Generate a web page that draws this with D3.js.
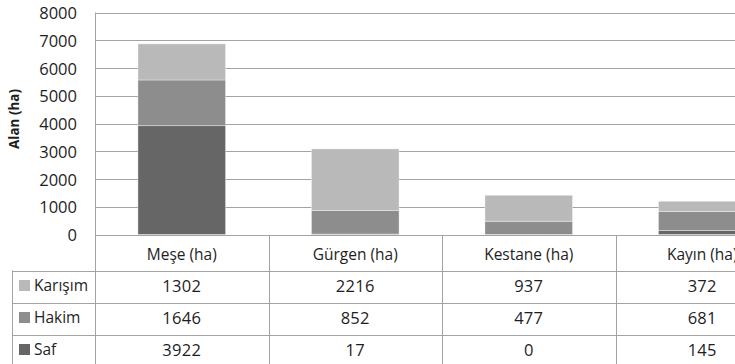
<!DOCTYPE html>
<html>
<head>
<meta charset="utf-8">
<script src="https://cdn.jsdelivr.net/npm/d3@7/dist/d3.min.js"></script>
<style>
  html, body { margin: 0; padding: 0; background: #fff; }
  svg { display: block; }
  text { font-family: "Open Sans", "DejaVu Sans", sans-serif; fill: #1e1e1e; }
</style>
</head>
<body>
<svg id="chart" width="735" height="364"></svg>
<script>
// Forest area by species and stand type
const categories = ["Meşe (ha)", "Gürgen (ha)", "Kestane (ha)", "Kayın (ha)"];
const seriesNames = ["Karışım", "Hakim", "Saf"];
const karisim = [1302, 2216, 937, 372];
const hakim = [1646, 852, 477, 681];
const saf = [3922, 17, 0, 145];
const yTicks = [0, 1000, 2000, 3000, 4000, 5000, 6000, 7000, 8000];
const colors = { "Karışım": "#b9b9b9", "Hakim": "#8d8d8d", "Saf": "#666666" };

const svg = d3.select("#chart");
const W = 735, H = 364;

const plotLeft = 95, plotTop = 12.5, plotBottom = 234.5;
const colStep = 173.5;
const tableLeft = 12;
const rowH = 32;

const x = d3.scaleBand()
  .domain(categories)
  .range([plotLeft, plotLeft + colStep * categories.length])
  .paddingInner(0).paddingOuter(0);

const y = d3.scaleLinear().domain([0, 8000]).range([plotBottom, plotTop]);

// Stack order bottom-up: Saf, Hakim, Karışım
const rows = categories.map((c, i) => ({ cat: c, "Saf": saf[i], "Hakim": hakim[i], "Karışım": karisim[i] }));
const stack = d3.stack().keys(["Saf", "Hakim", "Karışım"]);
const stacked = stack(rows);

const gridColor = "#a3a3a3";

// horizontal gridlines
svg.append("g").selectAll("line").data(yTicks).join("line")
  .attr("x1", plotLeft).attr("x2", W)
  .attr("y1", d => Math.round(y(d)) + 0.5).attr("y2", d => Math.round(y(d)) + 0.5)
  .attr("stroke", gridColor).attr("stroke-width", 1);

// y tick labels
svg.append("g").selectAll("text").data(yTicks).join("text")
  .attr("x", 77).attr("y", d => y(d) + 6.5)
  .attr("text-anchor", "end")
  .attr("font-size", 16.5)
  .text(d => d);

// axis title
svg.append("text")
  .attr("transform", `translate(19,119) rotate(-90)`)
  .attr("text-anchor", "middle")
  .attr("font-size", 14.5)
  .attr("font-weight", "bold")
  .attr("textLength", 60)
  .attr("lengthAdjust", "spacingAndGlyphs")
  .text("Alan (ha)");

// bars
const barW = x.bandwidth() * 0.505;
svg.append("g").selectAll("g").data(stacked).join("g")
  .attr("fill", d => colors[d.key])
  .selectAll("rect").data(d => d).join("rect")
  .attr("x", d => x(d.data.cat) + (x.bandwidth() - barW) / 2)
  .attr("width", barW)
  .attr("y", d => y(d[1]))
  .attr("height", d => Math.max(0, y(d[0]) - y(d[1])))
  .attr("stroke", "rgba(255,255,255,0.45)")
  .attr("stroke-width", 0.8);

// data table
const tbl = svg.append("g");
const headerTop = Math.round(y(0)) + 0.5;
const rowTops = seriesNames.map((s, i) => headerTop + 35 + i * rowH);

// header row category labels
tbl.selectAll("text.cat").data(categories).join("text")
  .attr("class", "cat")
  .attr("x", d => x(d) + x.bandwidth() / 2)
  .attr("y", headerTop + 24.5)
  .attr("text-anchor", "middle")
  .attr("font-size", 15.5)
  .text(d => d);

// horizontal row lines
tbl.selectAll("line.row").data(rowTops).join("line")
  .attr("class", "row")
  .attr("x1", tableLeft).attr("x2", W)
  .attr("y1", d => Math.round(d) + 0.5).attr("y2", d => Math.round(d) + 0.5)
  .attr("stroke", gridColor);

// left axis / table divider
tbl.append("line")
  .attr("x1", plotLeft + 0.5).attr("x2", plotLeft + 0.5)
  .attr("y1", plotTop).attr("y2", H)
  .attr("stroke", gridColor);

// left table border
tbl.append("line")
  .attr("x1", tableLeft + 0.5).attr("x2", tableLeft + 0.5)
  .attr("y1", rowTops[0]).attr("y2", H)
  .attr("stroke", gridColor);

// column dividers between categories
tbl.selectAll("line.col").data(categories.slice(1)).join("line")
  .attr("class", "col")
  .attr("x1", d => Math.round(x(d)) + 0.5).attr("x2", d => Math.round(x(d)) + 0.5)
  .attr("y1", headerTop).attr("y2", H)
  .attr("stroke", gridColor);

const seriesValues = { "Karışım": karisim, "Hakim": hakim, "Saf": saf };

seriesNames.forEach((s, i) => {
  const top = Math.round(rowTops[i]);
  // legend key
  tbl.append("rect")
    .attr("x", 19).attr("y", top + 9)
    .attr("width", 11).attr("height", 11)
    .attr("fill", colors[s]);
  tbl.append("text")
    .attr("x", 34).attr("y", top + 20)
    .attr("font-size", 15.5)
    .text(s);
  // values
  tbl.selectAll(null).data(categories).join("text")
    .attr("x", d => x(d) + x.bandwidth() / 2)
    .attr("y", top + 20.5)
    .attr("text-anchor", "middle")
    .attr("font-size", 16.5)
    .attr("letter-spacing", 0.3)
    .text((d, j) => seriesValues[s][j]);
});
</script>
</body>
</html>
